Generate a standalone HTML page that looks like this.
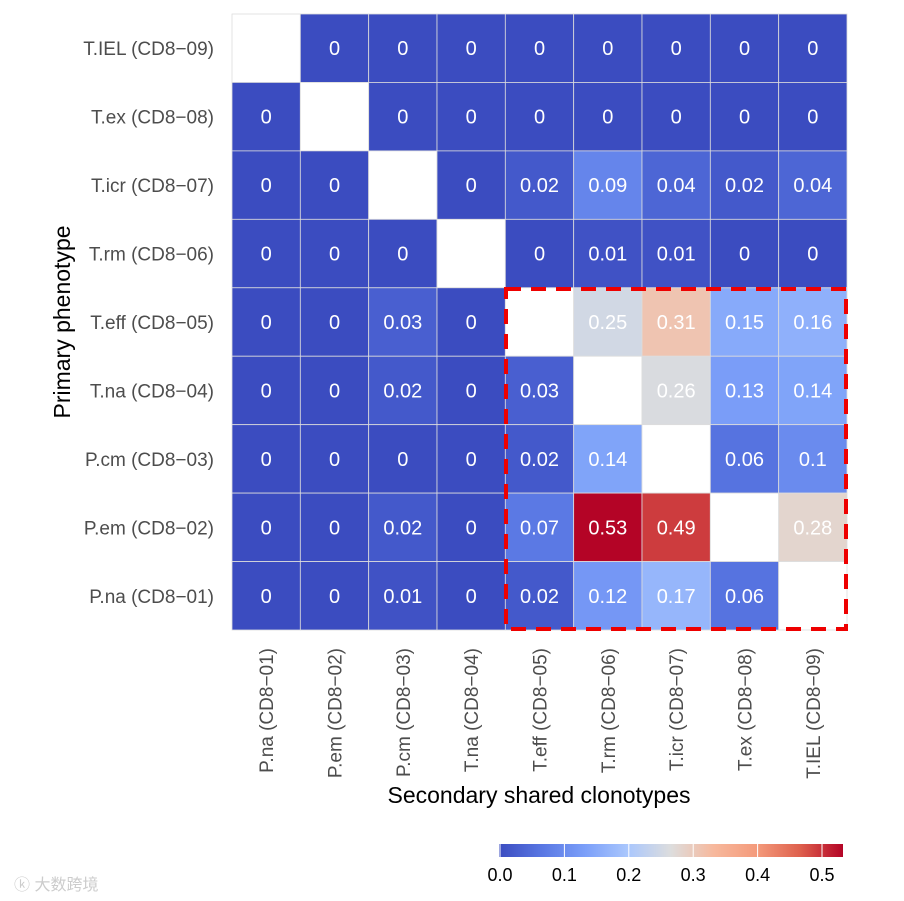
<!DOCTYPE html>
<html><head><meta charset="utf-8"><style>
html,body{margin:0;padding:0;background:#fff;width:904px;height:901px;overflow:hidden}
text{font-family:"Liberation Sans",sans-serif}
</style></head><body>
<svg id="chart" width="904" height="901" xmlns="http://www.w3.org/2000/svg">
<defs>
<linearGradient id="cbgrad" x1="0" x2="1" y1="0" y2="0">
<stop offset="0" stop-color="#3B4CC0"/><stop offset="0.125" stop-color="#5977E3"/><stop offset="0.25" stop-color="#7B9FF9"/>
<stop offset="0.375" stop-color="#AAC7FD"/><stop offset="0.5" stop-color="#DDDDDD"/><stop offset="0.625" stop-color="#F7B89C"/><stop offset="0.75" stop-color="#F49A7B"/><stop offset="0.875" stop-color="#DE604D"/>
<stop offset="1" stop-color="#B40426"/></linearGradient>
</defs>
<g id="cells"></g>
<g id="ylabels"></g>
<g id="xlabels"></g>
<rect x="506" y="289" width="340" height="340" fill="none" stroke="#EE0000" stroke-width="4" stroke-dasharray="15,10"/>
<text x="539" y="803" font-size="23" text-anchor="middle" fill="#000">Secondary shared clonotypes</text>
<text transform="translate(70,322) rotate(-90)" font-size="23" text-anchor="middle" fill="#000">Primary phenotype</text>
<rect x="499" y="844" width="344" height="13" fill="url(#cbgrad)"/>
<g id="cbticks"></g>
<text x="14" y="890" font-size="16" fill="#ccc" font-family="'Liberation Sans','Noto Sans CJK SC',sans-serif">ⓚ 大数跨境</text>
</svg>
<script>
const rows = ["T.IEL (CD8\u221209)","T.ex (CD8\u221208)","T.icr (CD8\u221207)","T.rm (CD8\u221206)","T.eff (CD8\u221205)","T.na (CD8\u221204)","P.cm (CD8\u221203)","P.em (CD8\u221202)","P.na (CD8\u221201)"];
const cols = ["P.na (CD8\u221201)","P.em (CD8\u221202)","P.cm (CD8\u221203)","T.na (CD8\u221204)","T.eff (CD8\u221205)","T.rm (CD8\u221206)","T.icr (CD8\u221207)","T.ex (CD8\u221208)","T.IEL (CD8\u221209)"];
const rowTIEL = [null,0,0,0,0,0,0,0,0];
const rowTex  = [0,null,0,0,0,0,0,0,0];
const rowTicr = [0,0,null,0,0.02,0.09,0.04,0.02,0.04];
const rowTrm  = [0,0,0,null,0,0.01,0.01,0,0];
const rowTeff = [0,0,0.03,0,null,0.25,0.31,0.15,0.16];
const rowTna  = [0,0,0.02,0,0.03,null,0.26,0.13,0.14];
const rowPcm  = [0,0,0,0,0.02,0.14,null,0.06,0.1];
const rowPem  = [0,0,0.02,0,0.07,0.53,0.49,null,0.28];
const rowPna  = [0,0,0.01,0,0.02,0.12,0.17,0.06,null];
const values = [rowTIEL,rowTex,rowTicr,rowTrm,rowTeff,rowTna,rowPcm,rowPem,rowPna];
const cbTicks = [0,0.1,0.2,0.3,0.4,0.5];
const vmax = 0.53;

const NS="http://www.w3.org/2000/svg";
const X0=232,Y0=14,CW=(847-232)/9,CH=(630-14)/9;
const xPos=i=>X0+i*CW, yPos=j=>Y0+j*CH;
const cbX=v=>500+v*(822-500)/0.5;
const stops=[[0,[59,76,192]],[0.125,[89,119,227]],[0.25,[123,159,249]],[0.375,[170,199,253]],[0.5,[221,221,221]],[0.625,[247,184,156]],[0.75,[244,154,123]],[0.875,[222,96,77]],[1,[180,4,38]]];
function color(v){let t=Math.max(0,Math.min(1,v/vmax));for(let k=0;k<stops.length-1;k++){const[a,ca]=stops[k],[b,cb]=stops[k+1];if(t<=b){const f=(t-a)/(b-a);return`rgb(${ca.map((c,i)=>Math.round(c+(cb[i]-c)*f)).join(",")})`;}}return"rgb(180,4,38)";}
function mk(tag,attrs,parent){const e=document.createElementNS(NS,tag);for(const k in attrs)e.setAttribute(k,attrs[k]);parent.appendChild(e);return e;}
const gC=document.getElementById("cells"),gY=document.getElementById("ylabels"),gX=document.getElementById("xlabels"),gT=document.getElementById("cbticks");
values.forEach((row,j)=>row.forEach((v,i)=>{
  const r=mk("rect",{x:xPos(i),y:yPos(j),width:CW,height:CH,fill:v===null?"#fff":color(v),stroke:"#dddddd","stroke-width":0.8},gC);
  
  
  if(v!==null){const t=mk("text",{x:xPos(i)+CW/2,y:yPos(j)+CH/2+7,"text-anchor":"middle","font-size":20,fill:"#fff"},gC);t.textContent=String(v);
    
    }
}));
rows.forEach((lab,j)=>{const t=mk("text",{x:214,y:yPos(j)+CH/2+7,"text-anchor":"end","font-size":19,fill:"#4d4d4d"},gY);t.textContent=lab;
  
  });
cols.forEach((lab,i)=>{const cx=xPos(i)+CW/2+7;const t=mk("text",{x:0,y:0,transform:`translate(${cx},648) rotate(-90)`,"text-anchor":"end","font-size":19,fill:"#4d4d4d"},gX);t.textContent=lab;
  
  });
cbTicks.forEach(v=>{
  const l=mk("line",{x1:cbX(v),x2:cbX(v),y1:844,y2:857,stroke:"#fff","stroke-width":1},gT);
  
  
  const t=mk("text",{x:cbX(v),y:881,"text-anchor":"middle","font-size":18,fill:"#000"},gT);t.textContent=v.toFixed(1);
  
  
});
</script>
</body></html>
